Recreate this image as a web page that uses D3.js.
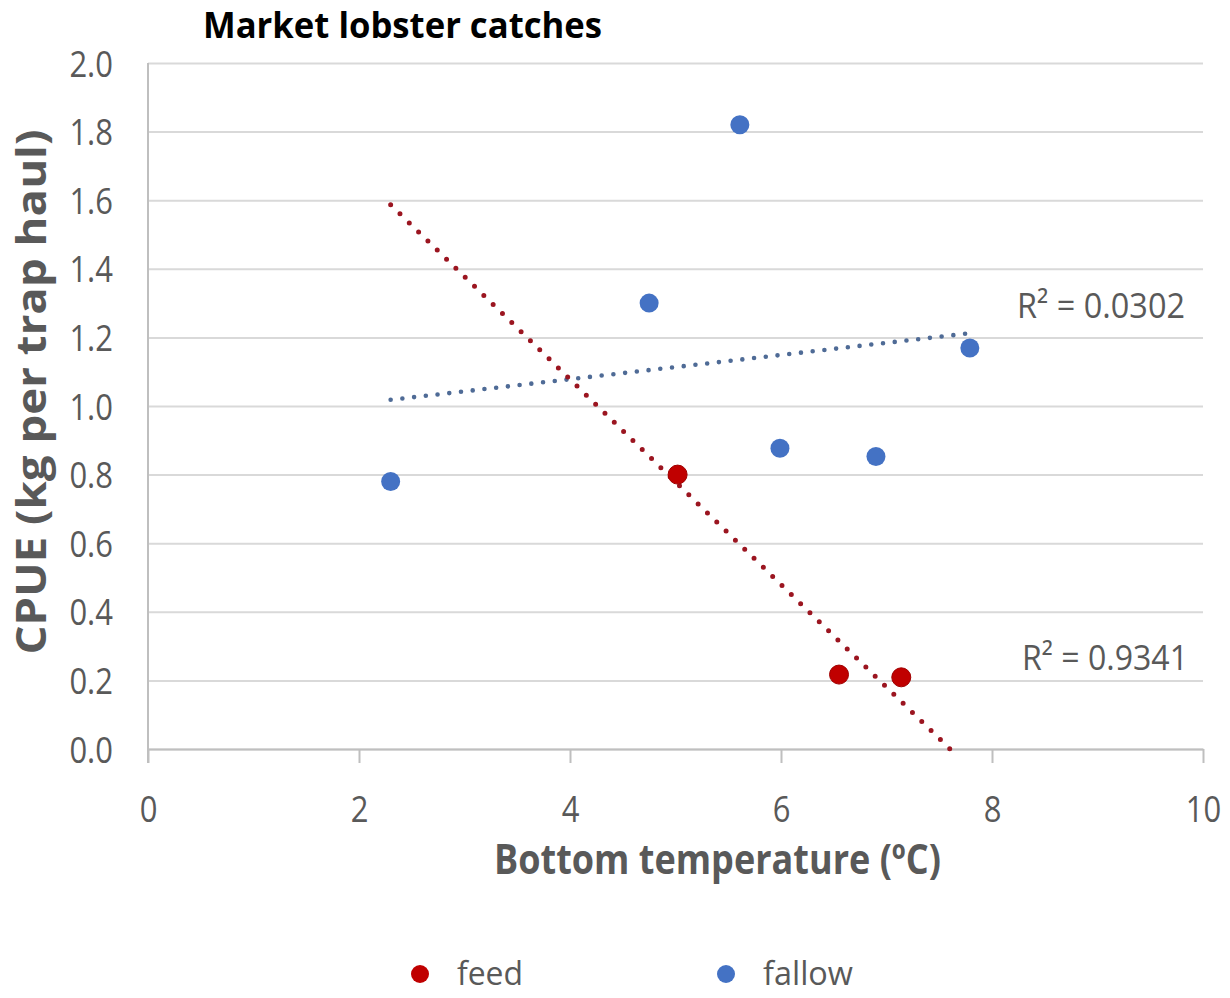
<!DOCTYPE html>
<html>
<head>
<meta charset="utf-8">
<script src="https://cdn.jsdelivr.net/npm/d3@7/dist/d3.min.js"></script>
<style>
  html, body { margin: 0; padding: 0; background: #ffffff; }
  svg { display: block; }
  text { font-family: "Open Sans", "Noto Sans", sans-serif; }
</style>
</head>
<body>
<svg id="chart" width="1230" height="998"></svg>
<script>
// Axis ticks
const xTicks = [0, 2, 4, 6, 8, 10];
const yTicks = [0, 0.2, 0.4, 0.6, 0.8, 1.0, 1.2, 1.4, 1.6, 1.8, 2.0];

// Bottom temperature (ºC) and CPUE (kg per trap haul) per site
const feedTemp   = [5.02, 6.55, 7.14];
const feedCpue   = [0.80, 0.217, 0.209];
const fallowTemp = [2.30, 4.75, 5.61, 5.99, 6.90, 7.79];
const fallowCpue = [0.78, 1.30, 1.82, 0.877, 0.853, 1.169];

// Goodness of fit of the linear trendlines
const feedR2Label   = "R² = 0.9341";
const fallowR2Label = "R² = 0.0302";

const seriesNames = ["feed", "fallow"];
const seriesColors = ["#c00000", "#4472c4"];
const trendColors = ["#9b1520", "#4f6b96"];

const svg = d3.select("#chart");
const plotLeft = 148, plotRight = 1203, plotTop = 63, plotBottom = 749;

const x = d3.scaleLinear().domain([0, 10]).range([plotLeft, plotRight]);
const y = d3.scaleLinear().domain([0, 2]).range([plotBottom, plotTop]);

// Horizontal gridlines
svg.append("g")
  .attr("transform", `translate(${plotLeft},0)`)
  .call(d3.axisLeft(y).tickValues(yTicks).tickSize(-(plotRight - plotLeft)).tickFormat(""))
  .call(g => g.select(".domain").remove())
  .call(g => g.selectAll("line").attr("stroke", "#d9d9d9").attr("stroke-width", 2));

// Y axis labels
svg.append("g")
  .attr("transform", `translate(${plotLeft},0)`)
  .call(d3.axisLeft(y).tickValues(yTicks).tickSize(0).tickFormat(d3.format(".1f")))
  .call(g => g.select(".domain").remove())
  .call(g => g.selectAll("text")
    .attr("x", null).attr("dy", null)
    .attr("text-anchor", "end")
    .attr("transform", "translate(-35,13) scale(1,1.2)")
    .attr("fill", "#595959")
    .style("font-size", "31px"));

// Vertical axis line
svg.append("line")
  .attr("x1", plotLeft).attr("x2", plotLeft)
  .attr("y1", y(2)).attr("y2", y(0) + 14)
  .attr("stroke", "#bfbfbf").attr("stroke-width", 2);

// X axis with ticks
svg.append("g")
  .attr("transform", `translate(0,${plotBottom})`)
  .call(d3.axisBottom(x).tickValues(xTicks).tickSize(14).tickSizeOuter(0).tickFormat(d3.format("d")))
  .call(g => g.select(".domain").attr("stroke", "#bfbfbf").attr("stroke-width", 2))
  .call(g => g.selectAll(".tick line").attr("stroke", "#bfbfbf").attr("stroke-width", 2))
  .call(g => g.selectAll("text")
    .attr("y", null).attr("dy", null)
    .attr("transform", "translate(0,73) scale(1,1.2)")
    .attr("fill", "#595959")
    .style("font-size", "31px"));

// Least-squares linear fit
function fit(xs, ys) {
  const mx = d3.mean(xs), my = d3.mean(ys);
  const sxy = d3.sum(xs, (v, i) => (v - mx) * (ys[i] - my));
  const sxx = d3.sum(xs, v => (v - mx) * (v - mx));
  const slope = sxy / sxx;
  return { slope, intercept: my - slope * mx };
}

// Both trendlines start at the coolest site
const trendStart = d3.min(fallowTemp.concat(feedTemp));

const feedFit = fit(feedTemp, feedCpue);
const fallowFit = fit(fallowTemp, fallowCpue);

// Feed trendline runs until it meets the zero line
const feedEnd = -feedFit.intercept / feedFit.slope;
const feedTrend = [trendStart, feedEnd].map(t => [t, Math.max(0, feedFit.intercept + feedFit.slope * t)]);
const fallowTrend = [trendStart, d3.max(fallowTemp)].map(t => [t, fallowFit.intercept + fallowFit.slope * t]);

const line = d3.line().x(d => x(d[0])).y(d => y(d[1]));

svg.append("path")
  .attr("d", line(fallowTrend))
  .attr("fill", "none")
  .attr("stroke", trendColors[1])
  .attr("stroke-width", 4.6)
  .attr("stroke-linecap", "round")
  .attr("stroke-dasharray", "0 11.8");

svg.append("path")
  .attr("d", line(feedTrend))
  .attr("fill", "none")
  .attr("stroke", trendColors[0])
  .attr("stroke-width", 5)
  .attr("stroke-linecap", "round")
  .attr("stroke-dasharray", "0 13");

// Points
svg.append("g").selectAll("circle")
  .data(fallowTemp.map((t, i) => [t, fallowCpue[i]]))
  .join("circle")
  .attr("cx", d => x(d[0])).attr("cy", d => y(d[1]))
  .attr("r", 9.5)
  .attr("fill", seriesColors[1]);

svg.append("g").selectAll("circle")
  .data(feedTemp.map((t, i) => [t, feedCpue[i]]))
  .join("circle")
  .attr("cx", d => x(d[0])).attr("cy", d => y(d[1]))
  .attr("r", 9.5)
  .attr("fill", seriesColors[0])
  .attr("stroke", "#a00000")
  .attr("stroke-width", 1);

// R² labels
svg.append("text")
  .attr("x", 1017).attr("y", 318)
  .attr("fill", "#595959")
  .style("font-size", "35px")
  .attr("textLength", 168).attr("lengthAdjust", "spacingAndGlyphs")
  .text(fallowR2Label);

svg.append("text")
  .attr("x", 1022).attr("y", 670)
  .attr("fill", "#595959")
  .style("font-size", "35px")
  .attr("textLength", 166).attr("lengthAdjust", "spacingAndGlyphs")
  .text(feedR2Label);

// Title
svg.append("text")
  .attr("x", 203).attr("y", 38)
  .attr("fill", "#000000")
  .style("font-size", "35px").style("font-weight", "bold")
  .attr("textLength", 399).attr("lengthAdjust", "spacingAndGlyphs")
  .text("Market lobster catches");

// Axis titles
svg.append("text")
  .attr("x", 494).attr("y", 874)
  .attr("fill", "#595959")
  .style("font-size", "42px").style("font-weight", "bold")
  .attr("textLength", 447).attr("lengthAdjust", "spacingAndGlyphs")
  .text("Bottom temperature (ºC)");

svg.append("text")
  .attr("transform", "translate(46,392) rotate(-90)")
  .attr("text-anchor", "middle")
  .attr("fill", "#595959")
  .style("font-size", "42px").style("font-weight", "bold")
  .attr("textLength", 525).attr("lengthAdjust", "spacingAndGlyphs")
  .text("CPUE (kg per trap haul)");

// Legend
const legendX = [420, 726];
const legendTextLen = [66, 90];
const legend = svg.append("g").selectAll("g")
  .data(seriesNames)
  .join("g")
  .attr("transform", (d, i) => `translate(${legendX[i]},974)`);
legend.append("circle")
  .attr("r", 9)
  .attr("fill", (d, i) => seriesColors[i]);
legend.append("text")
  .attr("x", 37).attr("y", 11)
  .attr("fill", "#595959")
  .style("font-size", "32px")
  .attr("textLength", (d, i) => legendTextLen[i]).attr("lengthAdjust", "spacingAndGlyphs")
  .text(d => d);
</script>
</body>
</html>
